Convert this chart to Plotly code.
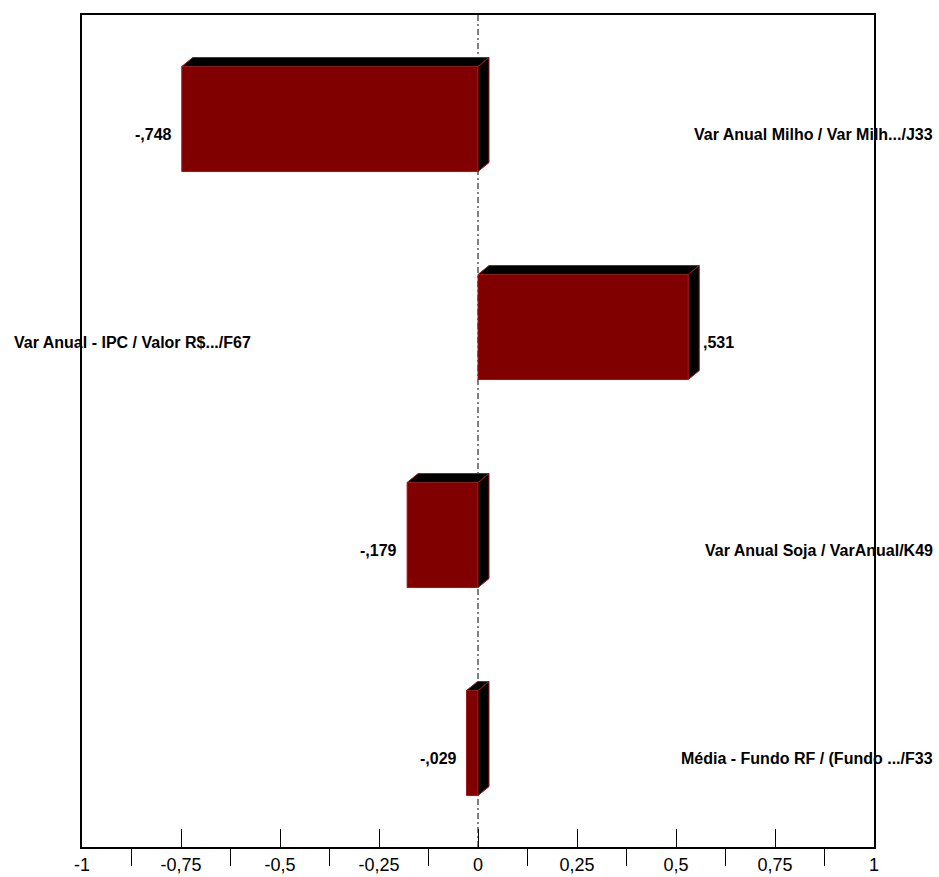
import plotly.graph_objects as go

# ---- data ----
categories = [
    "Var Anual Milho / Var Milh.../J33",
    "Var Anual - IPC / Valor R$.../F67",
    "Var Anual Soja / VarAnual/K49",
    "Média - Fundo RF / (Fundo .../F33",
]
values = [-0.748, 0.531, -0.179, -0.029]
tick_values = [-1, -0.75, -0.5, -0.25, 0, 0.25, 0.5, 0.75, 1]
tick_labels = ["-1", "-0,75", "-0,5", "-0,25", "0", "0,25", "0,5", "0,75", "1"]
half_ticks = [-0.875, -0.625, -0.375, -0.125, 0.125, 0.375, 0.625, 0.875]

# ---- style ----
FRONT = "#800000"
EDGE = "#a01818"
BAR_W = 0.505
DX = 0.0278   # 3D depth in x data units
DY = 0.043    # 3D depth in category units
FONT = "Liberation Sans, Arial, sans-serif"

n = len(categories)
pos = [n - 1 - i for i in range(n)]


def fmt(v):
    s = f"{abs(v):.3f}".lstrip("0").replace(".", ",")
    return ("-" if v < 0 else "") + s


fig = go.Figure()

fig.add_trace(go.Bar(
    x=values, y=pos, orientation="h", width=BAR_W,
    marker=dict(color=FRONT, line=dict(color=EDGE, width=1)),
    hoverinfo="skip", showlegend=False,
))

h = BAR_W / 2
for v, p in zip(values, pos):
    x0, x1 = min(0, v), max(0, v)
    yt, yb = p + h, p - h
    fig.add_trace(go.Scatter(
        x=[x0, x0 + DX, x1 + DX, x1, x0],
        y=[yt, yt + DY, yt + DY, yt, yt],
        fill="toself", fillcolor="black", mode="lines",
        line=dict(color=EDGE, width=1), hoverinfo="skip", showlegend=False,
    ))
    fig.add_trace(go.Scatter(
        x=[x1, x1 + DX, x1 + DX, x1, x1],
        y=[yt, yt + DY, yb + DY, yb, yt],
        fill="toself", fillcolor="black", mode="lines",
        line=dict(color=EDGE, width=1), hoverinfo="skip", showlegend=False,
    ))

annotations = []
for v, p, c in zip(values, pos, categories):
    if v < 0:
        annotations.append(dict(x=v, y=p, xref="x", yref="y", text=fmt(v),
                                xanchor="right", yanchor="middle", xshift=-8, yshift=-15,
                                showarrow=False,
                                font=dict(family=FONT, size=16, color="black", weight="bold")))
        annotations.append(dict(x=1.077, y=p, xref="paper", yref="y", text=c,
                                xanchor="right", yanchor="middle", yshift=-15,
                                showarrow=False,
                                font=dict(family=FONT, size=16, color="black", weight="bold")))
    else:
        annotations.append(dict(x=v + DX, y=p, xref="x", yref="y", text=fmt(v),
                                xanchor="left", yanchor="middle", xshift=2, yshift=-15,
                                showarrow=False,
                                font=dict(family=FONT, size=16, color="black", weight="bold")))
        annotations.append(dict(x=-0.089, y=p, xref="paper", yref="y", text=c,
                                xanchor="left", yanchor="middle", yshift=-15,
                                showarrow=False,
                                font=dict(family=FONT, size=16, color="black", weight="bold")))

all_ticks = sorted(tick_values + half_ticks)
all_text = [tick_labels[tick_values.index(t)] if t in tick_values else "" for t in all_ticks]

fig.add_vline(x=0, line=dict(color="black", width=1, dash="6px,3px,2px,3px"), layer="below")

fig.update_layout(
    width=939, height=877,
    margin=dict(l=82, r=65, t=15, b=30),
    plot_bgcolor="white", paper_bgcolor="white",
    annotations=annotations,
    xaxis=dict(
        range=[-1, 1], tickmode="array", tickvals=all_ticks, ticktext=all_text,
        ticks="inside", ticklen=18, tickcolor="black", tickwidth=1,
        minor=dict(tickmode="array", tickvals=half_ticks, ticks="outside",
                   ticklen=17, tickcolor="black", tickwidth=1),
        showline=True, linecolor="black", linewidth=2, mirror=True,
        showgrid=False, zeroline=False, automargin=False,
        ticklabelstandoff=0,
        tickfont=dict(family=FONT, size=18, color="black"),
    ),
    yaxis=dict(
        range=[-0.5, n - 0.5], showticklabels=False, ticks="",
        showline=True, linecolor="black", linewidth=2, mirror=True,
        showgrid=False, zeroline=False, automargin=False,
    ),
    showlegend=False,
)

fig.write_html("out.html")
